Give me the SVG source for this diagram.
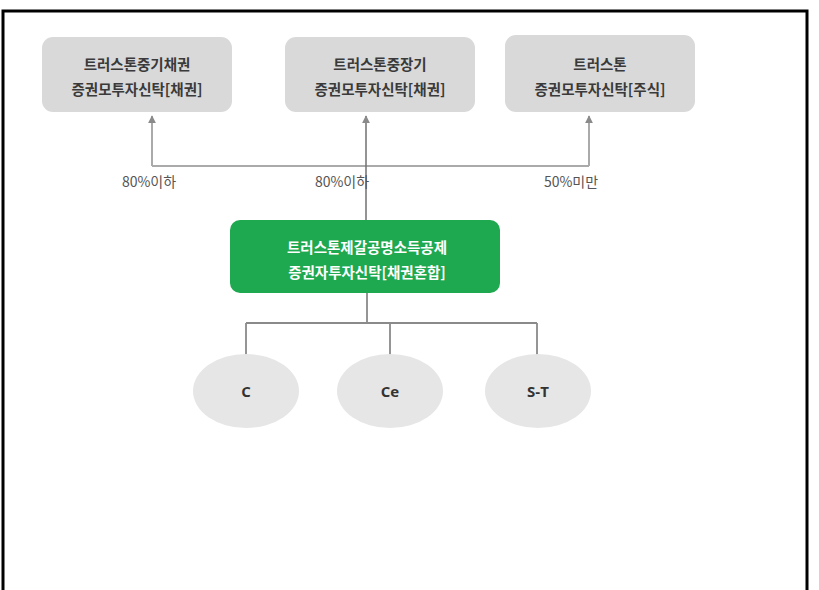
<svg xmlns="http://www.w3.org/2000/svg" width="819" height="590" viewBox="0 0 819 590">
<style>
.box{fill:#d9d9d9}
.btxt{font-family:"Noto Sans CJK KR","Noto Sans",sans-serif;font-size:14.5px;font-weight:700;fill:#3a3a3a;text-anchor:middle}
.gtxt{font-family:"Noto Sans CJK KR","Noto Sans",sans-serif;font-size:14.5px;font-weight:700;fill:#ffffff;text-anchor:middle}
.lbl{font-family:"Noto Sans CJK KR","Noto Sans",sans-serif;font-size:14px;fill:#555555;text-anchor:middle}
.etxt{font-family:"Open Sans","Noto Sans",sans-serif;font-size:15px;font-weight:700;fill:#333333;text-anchor:middle}
.ell{fill:#e6e6e6}
.lt{stroke:#aaaaaa;stroke-width:2;fill:none}
.dk{stroke:#707070;stroke-width:1.5;fill:none}
.bot{stroke:#8a8a8a;stroke-width:1.8;fill:none}
</style>
<defs>
<marker id="ah" viewBox="0 0 10 10" refX="9" refY="5" markerWidth="8" markerHeight="8" markerUnits="userSpaceOnUse" orient="auto">
<path d="M0,0 L10,5 L0,10 Z" fill="#8a8a8a"/>
</marker>
</defs>
<rect x="0" y="0" width="819" height="590" fill="#ffffff"/>
<path d="M3,590 V11 H807 V590" fill="none" stroke="#000000" stroke-width="3"/>
<g id="connectors">
<path class="lt" d="M152,166 H589"/>
<path class="lt" d="M152,166 V116" marker-end="url(#ah)"/>
<path class="lt" d="M589,166 V116" marker-end="url(#ah)"/>
<path class="dk" d="M366,220 V116" marker-end="url(#ah)"/>
<path class="bot" d="M367,293 V323 M246,323 H537 M246,323 V355 M390,323 V355 M537,323 V355"/>
</g>
<g id="label-1"><text class="lbl" x="149" y="187">80%이하</text></g>
<g id="label-2"><text class="lbl" x="342" y="187">80%이하</text></g>
<g id="label-3"><text class="lbl" x="571" y="187">50%미만</text></g>
<g id="node-1">
<rect class="box" x="42" y="37" width="190" height="75" rx="11"/>
<text class="btxt" x="137" y="70">트러스톤중기채권</text>
<text class="btxt" x="137" y="95">증권모투자신탁[채권]</text>
</g>
<g id="node-2">
<rect class="box" x="285" y="37" width="190" height="75" rx="11"/>
<text class="btxt" x="380" y="70">트러스톤중장기</text>
<text class="btxt" x="380" y="95">증권모투자신탁[채권]</text>
</g>
<g id="node-3">
<rect class="box" x="505" y="35" width="190" height="77" rx="11"/>
<text class="btxt" x="600" y="70">트러스톤</text>
<text class="btxt" x="600" y="95">증권모투자신탁[주식]</text>
</g>
<g id="node-main">
<rect x="230" y="220" width="270" height="73" rx="10" fill="#1ea84f"/>
<text class="gtxt" x="367" y="253">트러스톤제갈공명소득공제</text>
<text class="gtxt" x="367" y="278">증권자투자신탁[채권혼합]</text>
</g>
<g id="node-c">
<ellipse class="ell" cx="246" cy="391" rx="53" ry="37"/>
<text class="etxt" x="246" y="397">C</text>
</g>
<g id="node-ce">
<ellipse class="ell" cx="390" cy="391" rx="53" ry="37"/>
<text class="etxt" x="390" y="397">Ce</text>
</g>
<g id="node-st">
<ellipse class="ell" cx="538" cy="391" rx="53" ry="37"/>
<text class="etxt" x="538" y="397">S-T</text>
</g>
</svg>
